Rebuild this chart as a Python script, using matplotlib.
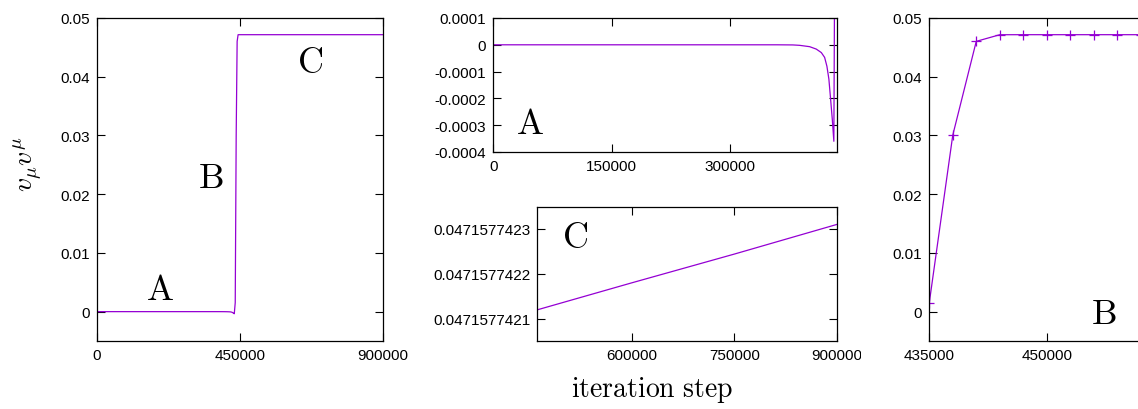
import matplotlib
matplotlib.use('Agg')
import matplotlib.pyplot as plt
from matplotlib.patches import Rectangle

plt.rcParams['font.family'] = ['Liberation Sans', 'DejaVu Sans']
plt.rcParams['mathtext.fontset'] = 'cm'

# iteration step vs v_mu v^mu
steps = [0, 100000, 200000, 300000, 360000, 380000, 388600, 401300, 409700,
         416100, 420300, 423200, 425700, 427800, 430000, 432000,
         435000, 438000, 441000, 444000, 447000, 450000, 453000, 456000, 459000,
         462000, 600000, 750000, 900000]
vv = [0, 0, 0, 0, 0, -0.0000005, -0.000002, -0.000007, -0.000016,
      -0.000029, -0.000047, -0.00008, -0.000128, -0.0002, -0.000277, -0.00036,
      0.00153, 0.03005, 0.04602, 0.04715, 0.0471577, 0.0471577, 0.0471577, 0.0471577, 0.0471577,
      0.04715774212, 0.04715774218, 0.047157742244, 0.04715774231]

full_yticks = [0, 0.01, 0.02, 0.03, 0.04, 0.05]
full_ylabels = ['0', '0.01', '0.02', '0.03', '0.04', '0.05']
full_xticks = [0, 450000, 900000]
a_xticks = [0, 150000, 300000]
a_yticks = [-0.0004, -0.0003, -0.0002, -0.0001, 0, 0.0001]
a_ylabels = ['-0.0004', '-0.0003', '-0.0002', '-0.0001', '0', '0.0001']
c_xticks = [600000, 750000, 900000]
c_yticks = [0.0471577421, 0.0471577422, 0.0471577423]
c_ylabels = ['0.0471577421', '0.0471577422', '0.0471577423']
b_xticks = [435000, 450000]

color = '#9400d3'
W, H = 1138, 410


def box(x0, y0, x1, y1):
    # pixel box -> figure fraction
    return [x0 / W, 1 - y1 / H, (x1 - x0) / W, (y1 - y0) / H]


def style(ax):
    ax.tick_params(direction='in', top=True, right=True, length=6, width=0.8,
                   labelsize=11, pad=5)
    for s in ax.spines.values():
        s.set_linewidth(0.9)


def blank(ax, x0, x1):
    # gnuplot multiplot clears its own area, clipping earlier labels
    r = Rectangle((x0 / W, 0), (x1 - x0) / W, 1, transform=fig.transFigure,
                  facecolor='white', edgecolor='none', zorder=-5, clip_on=False)
    ax.add_artist(r)


fig = plt.figure(figsize=(W / 100, H / 100), dpi=100)

# full run
ax1 = fig.add_axes(box(97, 19, 383, 342))
ax1.plot(steps, vv, color=color, lw=0.9)
ax1.set_xlim(0, 900000)
ax1.set_ylim(-0.005, 0.05)
ax1.set_xticks(full_xticks, [str(t) for t in full_xticks])
ax1.set_yticks(full_yticks, full_ylabels)
style(ax1)
ax1.text(196700, 0.0037, r'$\mathrm{A}$', fontsize=26, ha='center', va='center')
ax1.text(358700, 0.0228, r'$\mathrm{B}$', fontsize=26, ha='center', va='center')
ax1.text(670300, 0.0424, r'$\mathrm{C}$', fontsize=26, ha='center', va='center')

# region A
ax2 = fig.add_axes(box(493.3, 19, 837, 153))
blank(ax2, 408, 863)
ax2.plot(steps, vv, color=color, lw=0.9)
ax2.set_xlim(0, 436000)
ax2.set_ylim(-0.0004, 0.0001)
ax2.set_xticks(a_xticks, [str(t) for t in a_xticks])
ax2.set_yticks(a_yticks, a_ylabels)
style(ax2)
ax2.text(0.107, 0.209, r'$\mathrm{A}$', fontsize=26, ha='center', va='center',
         transform=ax2.transAxes)

# region C
ax3 = fig.add_axes(box(537.3, 208.3, 837, 342.3))
ax3.plot(steps, vv, color=color, lw=0.9)
ax3.set_xlim(462000, 900000)
ax3.set_ylim(0.04715774205, 0.047157742348)
ax3.set_xticks(c_xticks, [str(t) for t in c_xticks])
ax3.set_yticks(c_yticks, c_ylabels)
style(ax3)
ax3.text(0.125, 0.772, r'$\mathrm{C}$', fontsize=26, ha='center', va='center',
         transform=ax3.transAxes)

# region B
ax4 = fig.add_axes(box(929.3, 19, 1211, 342))
blank(ax4, 861, 1300)
ax4.plot(steps, vv, color=color, lw=0.9, marker='+', ms=7, mew=0.9)
ax4.set_xlim(435000, 471000)
ax4.set_ylim(-0.005, 0.05)
ax4.set_xticks(b_xticks, [str(t) for t in b_xticks])
ax4.set_yticks(full_yticks, full_ylabels)
style(ax4)
ax4.text(457250, -0.000375, r'$\mathrm{B}$', fontsize=26, ha='center', va='center')

fig.text(28 / W, 1 - 164 / H, r'$v_\mu v^\mu$', fontsize=20, rotation=90,
         ha='center', va='center')
fig.text(652 / W, 1 - 390 / H, r'$\mathrm{iteration\ step}$', fontsize=20,
         ha='center', va='center')

fig.savefig('out.png', dpi=100)
